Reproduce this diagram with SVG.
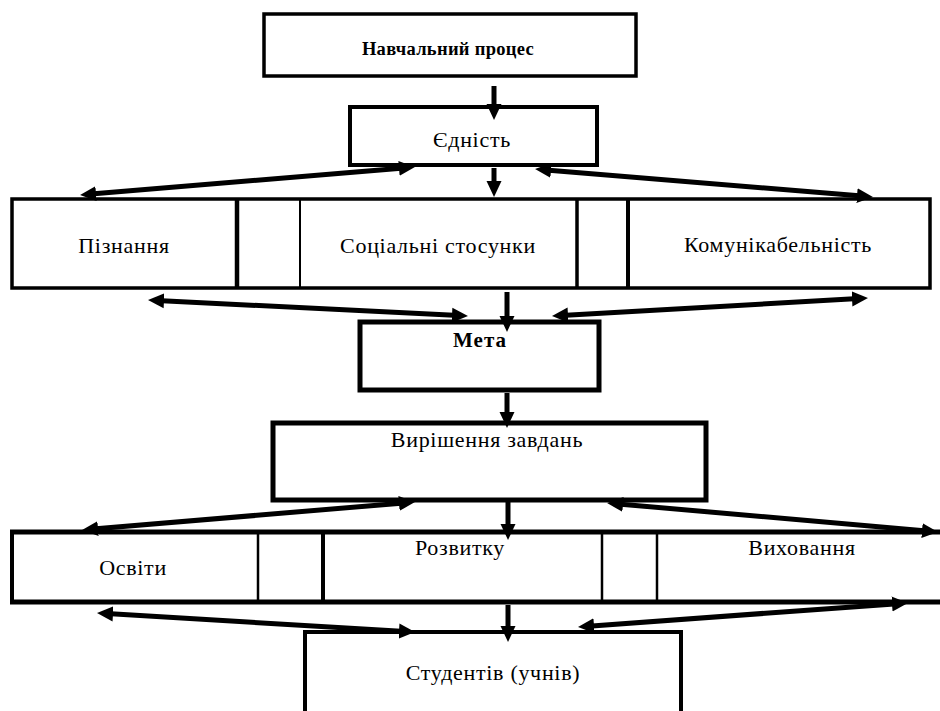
<svg xmlns="http://www.w3.org/2000/svg" width="940" height="711" viewBox="0 0 940 711">
<style>
  .box{fill:#fff;stroke:#000}
  .ln{stroke:#000;fill:none}
  .t{font-family:'Liberation Serif','Times New Roman','DejaVu Serif',serif;font-size:22px;fill:#000;text-anchor:middle;letter-spacing:0.7px}
  .b{font-weight:bold;font-size:21px;letter-spacing:1px}
  .ar{stroke:#000;stroke-width:5;fill:none;marker-end:url(#ah)}
  .ar2{stroke:#000;stroke-width:5;fill:none;marker-start:url(#ah);marker-end:url(#ah)}
</style>
<defs>
  <marker id="ah" markerUnits="userSpaceOnUse" markerWidth="18" markerHeight="16" refX="2" refY="7.5" orient="auto-start-reverse" viewBox="0 0 18 15">
    <path d="M0,0 L16,7.5 L0,15 z" fill="#000"/>
  </marker>
</defs>
<rect width="940" height="711" fill="#fff"/>

<g id="n-process">
  <rect class="box" x="264" y="14" width="372" height="62" stroke-width="3.5"/>
  <text class="t b" x="448" y="55" font-family="Liberation Serif, serif" style="letter-spacing:0.3px;font-size:18.5px">Навчальний процес</text>
</g>
<g id="n-unity">
  <rect class="box" x="350" y="107" width="247" height="58" stroke-width="4"/>
  <text class="t" x="472" y="147" font-family="Liberation Serif, serif">Єдність</text>
</g>
<g id="n-row1">
  <rect class="box" x="12" y="199" width="918" height="89" stroke-width="3.5"/>
  <line class="ln" x1="237" y1="199" x2="237" y2="288" stroke-width="4.5"/>
  <line class="ln" x1="300" y1="199" x2="300" y2="288" stroke-width="2"/>
  <line class="ln" x1="577" y1="199" x2="577" y2="288" stroke-width="3.5"/>
  <line class="ln" x1="628" y1="199" x2="628" y2="288" stroke-width="4"/>
  <g id="n-cognition"><text class="t" x="124" y="253" font-family="Liberation Serif, serif">Пізнання</text></g>
  <g id="n-social"><text class="t" x="438" y="253" font-family="Liberation Serif, serif">Соціальні стосунки</text></g>
  <g id="n-communic"><text class="t" x="778" y="252" font-family="Liberation Serif, serif">Комунікабельність</text></g>
</g>
<g id="n-goal">
  <rect class="box" x="360" y="322" width="239" height="68" stroke-width="5"/>
  <text class="t b" x="480" y="347" font-family="Liberation Serif, serif">Мета</text>
</g>
<g id="n-tasks">
  <rect class="box" x="273" y="423" width="433" height="77" stroke-width="5"/>
  <text class="t" x="487" y="447" font-family="Liberation Serif, serif">Вирішення завдань</text>
</g>
<g id="n-row2">
  <line class="ln" x1="10" y1="532" x2="940" y2="532" stroke-width="5"/>
  <line class="ln" x1="10" y1="602" x2="940" y2="602" stroke-width="5"/>
  <line class="ln" x1="12" y1="532" x2="12" y2="602" stroke-width="4"/>
  <line class="ln" x1="258" y1="532" x2="258" y2="602" stroke-width="2.5"/>
  <line class="ln" x1="323" y1="532" x2="323" y2="602" stroke-width="4"/>
  <line class="ln" x1="602" y1="532" x2="602" y2="602" stroke-width="2.5"/>
  <line class="ln" x1="657" y1="532" x2="657" y2="602" stroke-width="2.5"/>
  <g id="n-education"><text class="t" x="133" y="575" font-family="Liberation Serif, serif">Освіти</text></g>
  <g id="n-development"><text class="t" x="460" y="555" font-family="Liberation Serif, serif">Розвитку</text></g>
  <g id="n-upbringing"><text class="t" x="802" y="555" font-family="Liberation Serif, serif">Виховання</text></g>
</g>
<g id="n-students">
  <path class="ln" d="M305,713 V632 H681 V713" stroke-width="4"/>
  <text class="t" x="493" y="680" font-family="Liberation Serif, serif">Студентів (учнів)</text>
</g>

<g id="connectors">
  <line class="ar" x1="494" y1="86" x2="494" y2="106"/>
  <line class="ar" x1="494" y1="168" x2="494" y2="183"/>
  <line class="ar" x1="507" y1="292" x2="507" y2="318"/>
  <line class="ar" x1="507" y1="393" x2="507" y2="414"/>
  <line class="ar" x1="508" y1="501" x2="508" y2="526"/>
  <line class="ar" x1="508" y1="605" x2="508" y2="628"/>
  <line class="ar2" x1="401" y1="168.2" x2="94" y2="193.8"/>
  <line class="ar2" x1="549" y1="170.2" x2="859" y2="195.8"/>
  <line class="ar2" x1="162" y1="300.7" x2="454" y2="315.3"/>
  <line class="ar2" x1="566" y1="315.2" x2="854" y2="298.8"/>
  <line class="ar2" x1="401" y1="503.2" x2="96" y2="528.8"/>
  <line class="ar2" x1="621" y1="504.2" x2="924" y2="530.8"/>
  <line class="ar2" x1="111" y1="613.8" x2="401" y2="631.2"/>
  <line class="ar2" x1="592" y1="625.9" x2="894" y2="603.9"/>
</g>
</svg>
